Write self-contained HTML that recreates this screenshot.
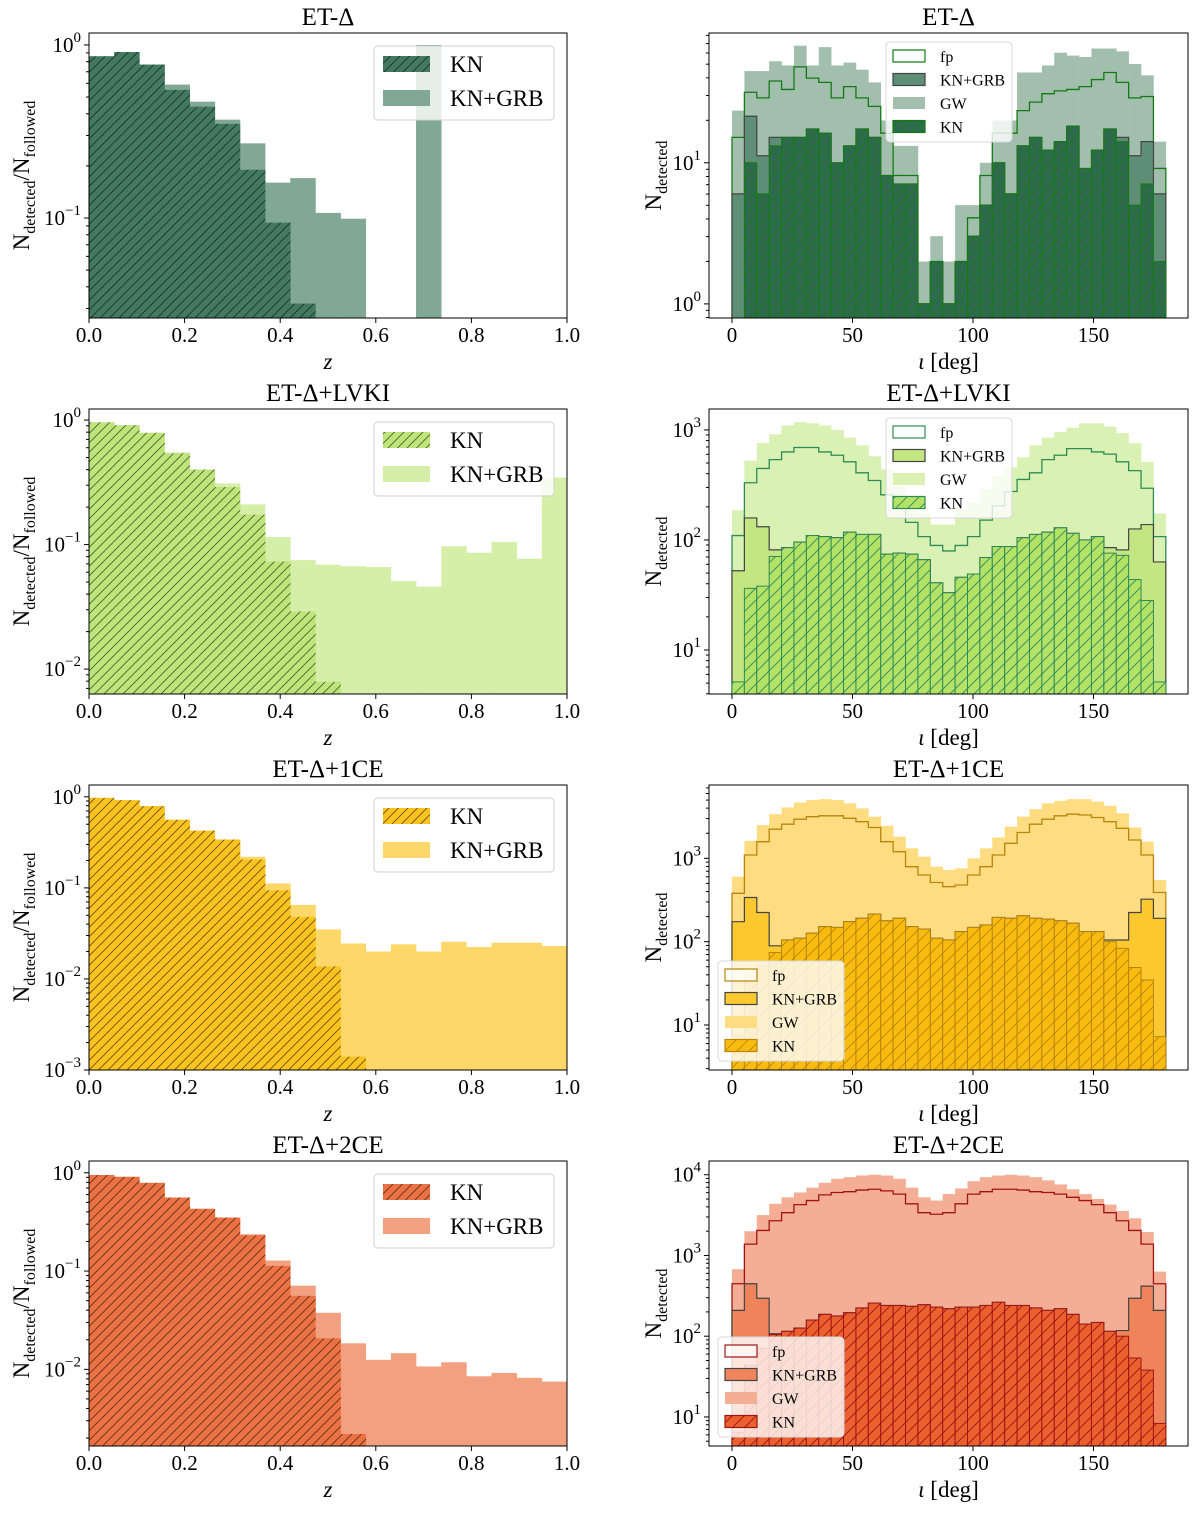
<!DOCTYPE html>
<html><head><meta charset="utf-8">
<style>
html,body{margin:0;padding:0;background:#fff;}
svg{display:block;font-family:"Liberation Serif",serif;}
</style></head>
<body>
<svg id="fig" width="1200" height="1522" viewBox="0 0 1200 1522" xmlns="http://www.w3.org/2000/svg">
<defs id="defs"></defs>
</svg>
<script>
// ---------- data: left panels (fraction per z bin, 19 bins on [0,1]) ----------
const zBinCount = 19;
const zTicks = [0, 0.2, 0.4, 0.6, 0.8, 1.0];
const zTickLabels = ["0.0", "0.2", "0.4", "0.6", "0.8", "1.0"];
const L1_KN = [0.86,0.91,0.77,0.55,0.44,0.35,0.19,0.094,0.032];
const L1_GRB = [0.86,0.91,0.77,0.59,0.47,0.37,0.27,0.16,0.17,0.107,0.099,0,0,1.0];
const L2_KN = [0.96,0.91,0.79,0.54,0.40,0.29,0.174,0.073,0.029,0.0079];
const L2_GRB = [0.96,0.91,0.79,0.55,0.40,0.31,0.21,0.115,0.075,0.069,0.067,0.066,0.051,0.046,0.097,0.086,0.105,0.077,0.345];
const L3_KN = [0.975,0.92,0.79,0.56,0.425,0.34,0.205,0.094,0.048,0.0137,0.0014];
const L3_GRB = [0.975,0.92,0.79,0.56,0.425,0.34,0.22,0.112,0.065,0.035,0.0245,0.020,0.024,0.020,0.0256,0.0224,0.025,0.025,0.023];
const L4_KN = [0.95,0.91,0.79,0.56,0.43,0.35,0.231,0.113,0.056,0.0207,0.0022];
const L4_GRB = [0.95,0.91,0.79,0.56,0.43,0.35,0.237,0.128,0.071,0.0376,0.0184,0.0125,0.0146,0.0107,0.0118,0.0085,0.0092,0.0082,0.0075];

// ---------- data: right panels (log10 N_detected per inclination bin, 35 bins on [0,180]) ----------
const incBinCount = 35;
const incTicks = [0, 50, 100, 150];
const incTickLabels = ["0", "50", "100", "150"];
const R1_GW = [1.37,1.65,1.65,1.72,1.69,1.83,1.69,1.82,1.69,1.71,1.66,1.57,1.30,1.12,1.12,0.30,0.48,0.30,0.70,0.70,1.00,1.30,1.30,1.64,1.64,1.69,1.78,1.76,1.75,1.81,1.81,1.79,1.70,1.62,1.15];
const R1_FP = [1.18,1.50,1.46,1.58,1.52,1.68,1.60,1.57,1.46,1.54,1.46,1.40,1.21,0.91,0.91,0.00,0.30,0.00,0.30,0.61,0.91,1.21,1.21,1.37,1.43,1.49,1.51,1.52,1.54,1.59,1.64,1.57,1.46,1.47,0.96];
const R1_GRB = [0.78,1.33,1.05,1.18,1.18,1.18,1.24,1.21,1.00,1.12,1.24,1.18,0.91,0.85,0.85,0.00,0.30,0.00,0.30,0.48,0.70,1.00,0.78,1.12,1.18,1.09,1.15,1.26,0.96,1.09,1.24,1.18,1.05,1.15,0.78];
const R1_KN = [null,1.00,0.78,1.12,1.18,1.18,1.24,1.21,1.00,1.12,1.24,1.18,0.91,0.85,0.85,0.00,0.30,0.00,0.30,0.48,0.70,1.00,0.78,1.12,1.18,1.09,1.15,1.26,0.96,1.09,1.24,1.15,0.70,0.85,0.30];

const R2_GW = [2.27,2.72,2.88,2.96,3.04,3.07,3.06,3.04,3.00,2.93,2.86,2.76,2.64,2.49,2.37,2.24,2.14,2.14,2.28,2.34,2.46,2.58,2.66,2.75,2.86,2.93,2.98,3.02,3.06,3.06,3.03,2.97,2.88,2.71,2.24];
const R2_FP = [2.04,2.52,2.65,2.73,2.80,2.84,2.84,2.80,2.77,2.71,2.61,2.54,2.41,2.29,2.16,2.03,1.95,1.90,1.95,2.03,2.18,2.31,2.44,2.55,2.61,2.73,2.77,2.83,2.83,2.80,2.78,2.71,2.63,2.47,2.03];
const R2_GRB = [1.72,2.20,2.12,1.91,1.93,1.98,2.04,2.03,2.02,2.07,2.05,2.05,1.87,1.88,1.87,1.82,1.61,1.52,1.66,1.69,1.84,1.94,1.94,2.02,2.05,2.07,2.11,2.06,2.00,2.03,1.93,1.91,2.10,2.14,1.80];
const R2_KN = [0.71,1.56,1.58,1.85,1.93,1.98,2.04,2.03,2.02,2.07,2.05,2.05,1.87,1.88,1.87,1.82,1.61,1.52,1.66,1.69,1.84,1.94,1.94,2.02,2.05,2.07,2.11,2.06,2.00,2.03,1.88,1.86,1.64,1.45,0.71];

const R3_GW = [2.78,3.21,3.40,3.53,3.61,3.67,3.70,3.71,3.70,3.66,3.60,3.50,3.39,3.26,3.12,3.02,2.90,2.86,2.88,3.00,3.12,3.25,3.38,3.50,3.59,3.66,3.69,3.71,3.71,3.68,3.63,3.54,3.37,3.20,2.74];
const R3_FP = [2.58,3.04,3.20,3.35,3.41,3.47,3.50,3.51,3.51,3.48,3.44,3.37,3.20,3.08,2.90,2.80,2.71,2.66,2.68,2.80,2.90,3.04,3.18,3.31,3.41,3.47,3.51,3.53,3.52,3.49,3.44,3.36,3.22,3.04,2.59];
const R3_GRB = [2.24,2.53,2.35,1.95,2.02,2.04,2.10,2.18,2.17,2.24,2.28,2.33,2.25,2.28,2.18,2.15,2.04,2.02,2.12,2.17,2.20,2.29,2.28,2.31,2.28,2.27,2.25,2.22,2.12,2.12,2.02,2.02,2.35,2.51,2.28];
const R3_KN = [0.87,1.63,1.71,1.87,2.02,2.04,2.10,2.18,2.17,2.24,2.28,2.33,2.25,2.28,2.18,2.15,2.04,2.02,2.12,2.17,2.20,2.29,2.28,2.31,2.28,2.27,2.25,2.22,2.12,2.12,2.00,1.92,1.69,1.54,0.86];

const R4_GW = [2.83,3.30,3.50,3.64,3.72,3.78,3.84,3.90,3.95,3.97,3.99,4.00,3.99,3.95,3.84,3.72,3.68,3.76,3.83,3.92,3.97,3.99,4.00,3.99,3.97,3.93,3.88,3.82,3.76,3.70,3.63,3.55,3.46,3.29,2.80];
const R4_FP = [2.65,3.14,3.31,3.43,3.53,3.63,3.68,3.75,3.78,3.79,3.81,3.82,3.80,3.76,3.64,3.53,3.51,3.53,3.64,3.76,3.79,3.82,3.82,3.81,3.79,3.78,3.76,3.72,3.68,3.63,3.53,3.43,3.31,3.14,2.65];
const R4_GRB = [2.32,2.65,2.47,2.03,2.06,2.10,2.20,2.27,2.25,2.29,2.35,2.41,2.38,2.38,2.37,2.39,2.36,2.34,2.36,2.36,2.38,2.42,2.38,2.38,2.35,2.32,2.34,2.27,2.15,2.17,2.06,2.07,2.47,2.62,2.32];
const R4_KN = [0.81,1.64,1.85,2.02,2.06,2.10,2.20,2.27,2.25,2.29,2.35,2.41,2.38,2.38,2.37,2.39,2.36,2.34,2.36,2.36,2.38,2.42,2.38,2.38,2.35,2.32,2.34,2.27,2.15,2.17,2.06,2.00,1.73,1.58,0.92];

const titles = ["ET-\u0394", "ET-\u0394+LVKI", "ET-\u0394+1CE", "ET-\u0394+2CE"];

const NS = "http://www.w3.org/2000/svg";
const svg = document.getElementById("fig");
const defs = document.getElementById("defs");
function mk(tag, attrs, parent) {
  const e = document.createElementNS(NS, tag);
  for (const k in attrs) e.setAttribute(k, attrs[k]);
  (parent || svg).appendChild(e);
  return e;
}
function hatch(id, bg, line, sp, w) {
  const p = mk("pattern", {id: id, patternUnits: "userSpaceOnUse", width: sp, height: sp}, defs);
  mk("rect", {x: 0, y: 0, width: sp, height: sp, fill: bg}, p);
  mk("path", {d: `M${-sp/2},${sp/2} L${sp/2},${-sp/2} M0,${sp} L${sp},0 M${sp/2},${sp*1.5} L${sp*1.5},${sp/2}`, stroke: line, "stroke-width": w}, p);
}

const rowY = [33, 409, 785, 1161];
const rowH = 285;
const leftCfg = [
  {lmin: -1.578, lmax: 0.069, kn: L1_KN, grb: L1_GRB, knc: "#43795f", grbc: "#80a894"},
  {lmin: -2.2, lmax: 0.089, kn: L2_KN, grb: L2_GRB, knc: "#bde57a", grbc: "#d5eea8"},
  {lmin: -3.0, lmax: 0.13, kn: L3_KN, grb: L3_GRB, knc: "#fbc320", grbc: "#fdd768"},
  {lmin: -2.78, lmax: 0.12, kn: L4_KN, grb: L4_GRB, knc: "#ec7243", grbc: "#f3a080"}
];
const rightCfg = [
  {lmin: -0.1, lmax: 1.92, gw: R1_GW, fp: R1_FP, grb: R1_GRB, kn: R1_KN, gwc: "#a2bfae", grbc: "#5e8f76", knc: "#2f6a4f", edge: "#137a13", legTop: true},
  {lmin: 0.6, lmax: 3.19, gw: R2_GW, fp: R2_FP, grb: R2_GRB, kn: R2_KN, gwc: "#d9f1b3", grbc: "#c3e683", knc: "#b4e266", edge: "#2e8b57", legTop: true},
  {lmin: 0.46, lmax: 3.88, gw: R3_GW, fp: R3_FP, grb: R3_GRB, kn: R3_KN, gwc: "#fedc82", grbc: "#fcc830", knc: "#f9bb10", edge: "#b8860b", legTop: false},
  {lmin: 0.64, lmax: 4.17, gw: R4_GW, fp: R4_FP, grb: R4_GRB, kn: R4_KN, gwc: "#f4ae95", grbc: "#ef845a", knc: "#ea602e", edge: "#a01414", legTop: false}
];

function logTicks(g, ax, sy) {
  for (let d = Math.floor(ax.lmin); d <= Math.ceil(ax.lmax); d++) {
    for (let m = 1; m < 10; m++) {
      const l = d + Math.log10(m);
      if (l < ax.lmin || l > ax.lmax) continue;
      const y = sy(Math.pow(10, l));
      mk("line", {x1: ax.x0 - (m === 1 ? 5 : 3), x2: ax.x0, y1: y, y2: y, stroke: "#000", "stroke-width": 1}, g);
      if (m === 1) {
        const t = mk("text", {x: ax.x0 - 8, y: y + 7, "text-anchor": "end", "font-size": 21}, g);
        
        
        t.appendChild(document.createTextNode("10"));
        const s = mk("tspan", {dy: -10, "font-size": 15}, t);
        s.textContent = d < 0 ? "\u2212" + (-d) : String(d);
      }
    }
  }
}

function drawLeft(i) {
  const c = leftCfg[i];
  const ax = {x0: 89, x1: 567, y0: rowY[i], y1: rowY[i] + rowH, lmin: c.lmin, lmax: c.lmax};
  const g = mk("g", {});
  
  
  const sx = v => ax.x0 + v * (ax.x1 - ax.x0);
  const sy = v => ax.y1 - (Math.log10(v) - ax.lmin) / (ax.lmax - ax.lmin) * (ax.y1 - ax.y0);
  const cid = "clipL" + i;
  const cp = mk("clipPath", {id: cid}, defs);
  mk("rect", {x: ax.x0, y: ax.y0, width: ax.x1 - ax.x0, height: ax.y1 - ax.y0}, cp);
  const pid = "hatchL" + i;
  hatch(pid, c.knc, "rgba(0,0,0,0.6)", 9.5, 0.8);
  const bars = mk("g", {"clip-path": `url(#${cid})`}, g);
  c.grb.forEach((v, k) => {
    if (!v) return;
    const y = sy(v);
    const r = mk("rect", {x: sx(k / zBinCount), y: y, width: sx((k + 1) / zBinCount) - sx(k / zBinCount) + 0.3, height: ax.y1 - y, fill: c.grbc}, bars);
    
    
  });
  c.kn.forEach((v, k) => {
    if (!v) return;
    const y = sy(v);
    const r = mk("rect", {x: sx(k / zBinCount), y: y, width: sx((k + 1) / zBinCount) - sx(k / zBinCount) + 0.3, height: ax.y1 - y, fill: `url(#${pid})`}, bars);
    
    
  });
  mk("rect", {x: ax.x0, y: ax.y0, width: ax.x1 - ax.x0, height: ax.y1 - ax.y0, fill: "none", stroke: "#000", "stroke-width": 1}, g);
  zTicks.forEach((t, k) => {
    const x = sx(t);
    mk("line", {x1: x, x2: x, y1: ax.y1, y2: ax.y1 + 5, stroke: "#000"}, g);
    const tl = mk("text", {x: x, y: ax.y1 + 24, "text-anchor": "middle", "font-size": 21}, g);
    
    
    tl.textContent = zTickLabels[k];
  });
  logTicks(g, ax, sy);
  const title = mk("text", {x: (ax.x0 + ax.x1) / 2, y: ax.y0 - 8, "text-anchor": "middle", "font-size": 25}, g);
  
  
  title.textContent = titles[i];
  const xl = mk("text", {x: (ax.x0 + ax.x1) / 2, y: ax.y1 + 51, "text-anchor": "middle", "font-size": 23, "font-style": "italic"}, g);
  
  
  xl.textContent = "z";
  const cy = (ax.y0 + ax.y1) / 2;
  const yl = mk("text", {x: 0, y: 0, "text-anchor": "middle", "font-size": 23, transform: `translate(29,${cy}) rotate(-90)`}, g);
  
  
  yl.appendChild(document.createTextNode("N"));
  let s = mk("tspan", {dy: 6, "font-size": 16}, yl); s.textContent = "detected";
  s = mk("tspan", {dy: -6}, yl); s.textContent = "/N";
  s = mk("tspan", {dy: 6, "font-size": 16}, yl); s.textContent = "followed";
  // legend
  const lg = mk("g", {}, g);
  
  
  const ly = ax.y0 + 13;
  mk("rect", {x: 374, y: ly, width: 180, height: 74, rx: 4, fill: "rgba(255,255,255,0.8)", stroke: "#d0d0d0"}, lg);
  mk("rect", {x: 383, y: ly + 10, width: 47, height: 16, fill: `url(#${pid})`}, lg);
  mk("rect", {x: 383, y: ly + 44, width: 47, height: 16, fill: c.grbc}, lg);
  let t = mk("text", {x: 450, y: ly + 26, "font-size": 23}, lg); t.textContent = "KN";
  
  
  t = mk("text", {x: 450, y: ly + 60, "font-size": 23}, lg); t.textContent = "KN+GRB";
  
  
}

function drawRight(i) {
  const c = rightCfg[i];
  const ax = {x0: 709, x1: 1188, y0: rowY[i], y1: rowY[i] + rowH, lmin: c.lmin, lmax: c.lmax, xmin: -9.54, xmax: 189.2};
  const g = mk("g", {});
  
  
  const sx = v => ax.x0 + (v - ax.xmin) / (ax.xmax - ax.xmin) * (ax.x1 - ax.x0);
  const sy = v => ax.y1 - (Math.log10(v) - ax.lmin) / (ax.lmax - ax.lmin) * (ax.y1 - ax.y0);
  const edge = k => sx(k * 180 / incBinCount);
  const cid = "clipR" + i;
  const cp = mk("clipPath", {id: cid}, defs);
  mk("rect", {x: ax.x0, y: ax.y0, width: ax.x1 - ax.x0, height: ax.y1 - ax.y0}, cp);
  const pid = "hatchR" + i;
  hatch(pid, c.knc, c.edge, 12, 0.9);
  const bars = mk("g", {"clip-path": `url(#${cid})`}, g);
  const base = ax.y1 + 2;
  function stepPath(arr) {
    let d = `M${edge(0)},${base}`;
    arr.forEach((v, k) => {
      const y = v === null ? base : sy(Math.pow(10, v));
      d += ` L${edge(k)},${y} L${edge(k + 1)},${y}`;
    });
    d += ` L${edge(arr.length)},${base}`;
    return d;
  }
  c.gw.forEach((v, k) => {
    const y = sy(Math.pow(10, v));
    const r = mk("rect", {x: edge(k), y: y, width: edge(k + 1) - edge(k) + 0.3, height: base - y, fill: c.gwc}, bars);
    
    
  });
  const fp = mk("path", {d: stepPath(c.fp), fill: "none", stroke: c.edge, "stroke-width": 1.3}, bars);
  
  
  c.grb.forEach((v, k) => {
    const y = sy(Math.pow(10, v));
    const r = mk("rect", {x: edge(k), y: y, width: edge(k + 1) - edge(k) + 0.3, height: base - y, fill: c.grbc}, bars);
    
    
  });
  mk("path", {d: stepPath(c.grb), fill: "none", stroke: "#444", "stroke-width": 1.2}, bars);
  c.kn.forEach((v, k) => {
    if (v === null) return;
    const y = sy(Math.pow(10, v));
    const r = mk("rect", {x: edge(k), y: y, width: edge(k + 1) - edge(k), height: base - y, fill: `url(#${pid})`, stroke: c.edge, "stroke-width": 1}, bars);
    
    
  });
  mk("rect", {x: ax.x0, y: ax.y0, width: ax.x1 - ax.x0, height: ax.y1 - ax.y0, fill: "none", stroke: "#000", "stroke-width": 1}, g);
  incTicks.forEach((t, k) => {
    const x = sx(t);
    mk("line", {x1: x, x2: x, y1: ax.y1, y2: ax.y1 + 5, stroke: "#000"}, g);
    const tl = mk("text", {x: x, y: ax.y1 + 24, "text-anchor": "middle", "font-size": 21}, g);
    
    
    tl.textContent = incTickLabels[k];
  });
  logTicks(g, ax, sy);
  const title = mk("text", {x: (ax.x0 + ax.x1) / 2, y: ax.y0 - 8, "text-anchor": "middle", "font-size": 25}, g);
  
  
  title.textContent = titles[i];
  const xl = mk("text", {x: (ax.x0 + ax.x1) / 2, y: ax.y1 + 51, "text-anchor": "middle", "font-size": 23}, g);
  
  
  const it = mk("tspan", {"font-style": "italic"}, xl); it.textContent = "\u03B9";
  xl.appendChild(document.createTextNode(" [deg]"));
  const cy = (ax.y0 + ax.y1) / 2;
  const yl = mk("text", {x: 0, y: 0, "text-anchor": "middle", "font-size": 23, transform: `translate(661,${cy}) rotate(-90)`}, g);
  
  
  yl.appendChild(document.createTextNode("N"));
  const s = mk("tspan", {dy: 6, "font-size": 16}, yl); s.textContent = "detected";
  // legend
  const lg = mk("g", {}, g);
  
  
  const lx = c.legTop ? 886 : 718;
  const ly = c.legTop ? ax.y0 + 9 : ax.y0 + 176;
  mk("rect", {x: lx, y: ly, width: 126, height: 100, rx: 4, fill: "rgba(255,255,255,0.8)", stroke: "#d8d8d8"}, lg);
  const names = ["fp", "KN+GRB", "GW", "KN"];
  const fills = ["rgba(255,255,255,0.6)", c.grbc, c.gwc, `url(#${pid})`];
  const strokes = [c.edge, "#444", "none", c.edge];
  names.forEach((n, k) => {
    const yy = ly + 8 + k * 23.5;
    mk("rect", {x: lx + 7, y: yy, width: 32, height: 12, fill: fills[k], stroke: strokes[k], "stroke-width": 1.2}, lg);
    const t = mk("text", {x: lx + 54, y: yy + 12, "font-size": 16}, lg);
    
    
    t.textContent = n;
  });
}

for (let i = 0; i < 4; i++) { drawLeft(i); drawRight(i); }
</script>
</body></html>
